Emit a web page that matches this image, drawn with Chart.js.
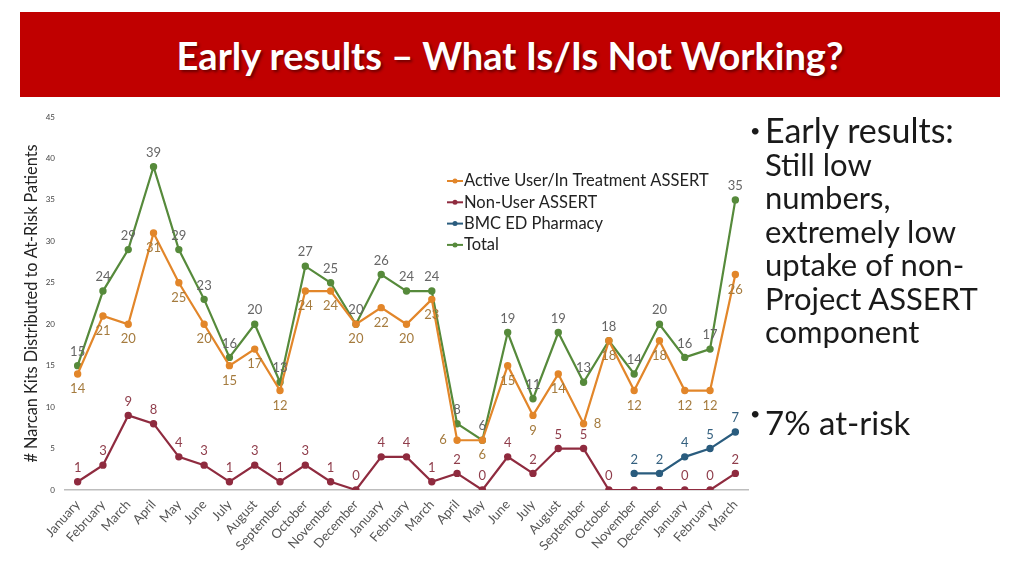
<!DOCTYPE html>
<html>
<head>
<meta charset="utf-8">
<script src="https://cdn.jsdelivr.net/npm/chart.js@4"></script>
<style>
  html, body { margin: 0; padding: 0; background: #fff; width: 1024px; height: 576px; overflow: hidden; }
  #titleBar { position: absolute; left: 20px; top: 12px; width: 980px; height: 85px; background: #C00000;
    display: flex; align-items: center; justify-content: center; }
  #titleBar h1 { margin: 0; color: #fff; font-family: Lato, sans-serif; font-weight: 700; font-size: 38px;
    text-shadow: 2px 2px 3px rgba(0,0,0,0.45); }
  #chartBox { position: absolute; left: 0; top: 0; width: 760px; height: 576px; }
  #notes { position: absolute; left: 750px; top: 114px; width: 274px; font-family: Lato, sans-serif; color: #1a1a1a; }
  #notes p { margin: 0; position: relative; padding-left: 15px; }
  #notes p::before { content: "•"; position: absolute; left: 0; font-size: 18px; }
  #notes .first { font-size: 34px; line-height: 32.5px; }
  #notes .first span { font-size: 31px; }
  #notes .second { font-size: 33px; margin-top: 54px; }
</style>
</head>
<body>
<div id="titleBar"><h1>Early results – What Is/Is Not Working?</h1></div>
<div id="chartBox"><canvas id="chartCanvas"></canvas></div>
<div id="notes">
  <p class="first">Early results:<br><span>Still low<br>numbers,<br>extremely low<br>uptake of non-<br>Project ASSERT<br>component</span></p>
  <p class="second">7% at-risk</p>
</div>
<script>
const months = ["January", "February", "March", "April", "May", "June", "July", "August", "September",
  "October", "November", "December", "January", "February", "March", "April", "May", "June", "July",
  "August", "September", "October", "November", "December", "January", "February", "March"];

const activeUser = [14, 21, 20, 31, 25, 20, 15, 17, 12, 24, 24, 20, 22, 20, 23, 6, 6, 15, 9, 14, 8, 18, 12, 18, 12, 12, 26];
const nonUser = [1, 3, 9, 8, 4, 3, 1, 3, 1, 3, 1, 0, 4, 4, 1, 2, 0, 4, 2, 5, 5, 0, 0, 0, 0, 0, 2];
const bmcPharmacy = [null, null, null, null, null, null, null, null, null, null, null, null, null, null,
  null, null, null, null, null, null, null, null, 2, 2, 4, 5, 7];
const total = [15, 24, 29, 39, 29, 23, 16, 20, 13, 27, 25, 20, 26, 24, 24, 8, 6, 19, 11, 19, 13, 18, 14, 20, 16, 17, 35];

const yTicks = [0, 5, 10, 15, 20, 25, 30, 35, 40, 45];

const seriesStyle = [
  { label: "Active User/In Treatment ASSERT", data: activeUser, color: "#E2862A", text: "#A57B3E", spots: ["below", "right", "left"] },
  { label: "Non-User ASSERT", data: nonUser, color: "#8F2B3F", text: "#8F3D4B", spots: ["above"] },
  { label: "BMC ED Pharmacy", data: bmcPharmacy, color: "#2A5C7E", text: "#34607F", spots: ["above"] },
  { label: "Total", data: total, color: "#568A3B", text: "#666666", spots: ["above"] }
];

// value labels next to each point, skipping spots that collide with earlier labels
const pointLabels = {
  id: "pointLabels",
  afterDatasetsDraw(chart) {
    const ctx = chart.ctx;
    const placed = [];
    const hits = (b) => placed.some(p => Math.abs(p.x - b.x) < (p.w + b.w) / 2 + 4 && Math.abs(p.y - b.y) < 18);
    ctx.save();
    ctx.font = "13px Lato, sans-serif";
    ctx.textAlign = "center";
    ctx.textBaseline = "middle";
    [3, 2, 1, 0].forEach(di => {
      const ds = chart.data.datasets[di];
      const meta = chart.getDatasetMeta(di);
      const st = seriesStyle[di];
      meta.data.forEach((pt, i) => {
        const v = ds.data[i];
        if (v === null || v === undefined) return;
        const txt = String(v);
        const w = ctx.measureText(txt).width + 2;
        for (const s of st.spots) {
          const b = { w, x: pt.x, y: pt.y };
          if (s === "above") b.y -= 14;
          if (s === "below") b.y += 15;
          if (s === "left") b.x -= 14;
          if (s === "right") b.x += 14;
          if (!hits(b)) {
            placed.push(b);
            ctx.fillStyle = st.text;
            ctx.fillText(txt, b.x, b.y);
            break;
          }
        }
      });
    });
    ctx.restore();
  }
};

// legend drawn inside the plot like the original
const insideLegend = {
  id: "insideLegend",
  afterDraw(chart) {
    const ctx = chart.ctx;
    const x0 = 447, y0 = 181, step = 21.3;
    ctx.save();
    ctx.font = "16.5px Lato, sans-serif";
    ctx.textBaseline = "middle";
    seriesStyle.forEach((s, i) => {
      const y = y0 + i * step;
      ctx.strokeStyle = s.color;
      ctx.lineWidth = 2;
      ctx.beginPath();
      ctx.moveTo(x0, y);
      ctx.lineTo(x0 + 16, y);
      ctx.stroke();
      ctx.fillStyle = s.color;
      ctx.beginPath();
      ctx.arc(x0 + 8, y, 2.5, 0, Math.PI * 2);
      ctx.fill();
      ctx.fillStyle = "#222";
      ctx.fillText(s.label, x0 + 17, y);
    });
    ctx.restore();
  }
};

new Chart(document.getElementById("chartCanvas"), {
  type: "line",
  data: {
    labels: months,
    datasets: seriesStyle.map(s => ({
      label: s.label,
      data: s.data,
      borderColor: s.color,
      backgroundColor: s.color,
      borderWidth: 2.2,
      pointRadius: 2.6,
      pointHoverRadius: 2.6,
      tension: 0,
      spanGaps: false
    }))
  },
  options: {
    responsive: true,
    maintainAspectRatio: false,
    animation: false,
    layout: { padding: { left: 22, top: 117, right: 12, bottom: 4 } },
    plugins: { legend: { display: false }, tooltip: { enabled: false } },
    scales: {
      x: {
        offset: true,
        grid: { display: false, drawTicks: false },
        border: { display: true, color: "#BDBDBD", width: 1.5 },
        ticks: {
          autoSkip: false,
          maxRotation: 48,
          minRotation: 48,
          padding: 7,
          color: "#555",
          font: { family: "Lato, sans-serif", size: 13 }
        },
        afterFit(scale) { scale.height = 82; }
      },
      y: {
        min: 0,
        max: 45,
        grid: { display: false, drawTicks: false },
        border: { display: false },
        afterBuildTicks(scale) { scale.ticks = yTicks.map(v => ({ value: v })); },
        ticks: {
          padding: 10,
          color: "#444",
          font: { family: "Lato, sans-serif", size: 8 }
        },
        title: {
          display: true,
          text: "# Narcan Kits Distributed to At-Risk Patients",
          color: "#222",
          font: { family: "Lato, sans-serif", size: 16.3 },
          padding: { top: 0, bottom: 2 }
        },
        afterFit(scale) { scale.width = 43; }
      }
    }
  },
  plugins: [pointLabels, insideLegend]
});
</script>
</body>
</html>
